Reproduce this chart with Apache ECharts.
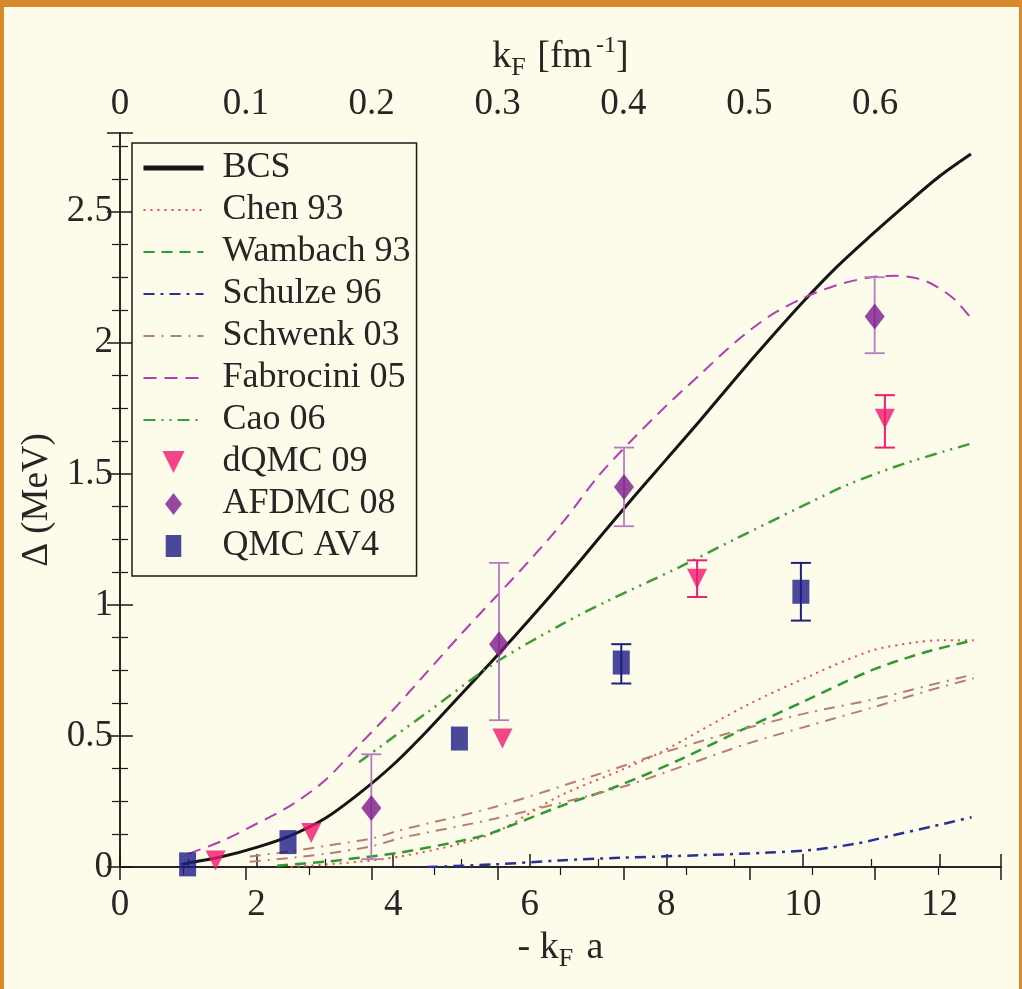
<!DOCTYPE html>
<html>
<head>
<meta charset="utf-8">
<script src="https://cdn.jsdelivr.net/npm/echarts@6/dist/echarts.min.js"></script>
<style>
html,body{margin:0;padding:0;background:#fdfbe9;}
#chart{width:1022px;height:989px;}
</style>
</head>
<body>
<div id="chart"></div>
<script>
// ---- data (x = -kF a, y = Delta in MeV) ----
const bcs = [[0.9,0.01],[1.0,0.015],[1.5,0.04],[2.0,0.075],[2.5,0.12],[3.0,0.185],[3.5,0.28],[4.0,0.39],[4.5,0.52],[5.0,0.66],[5.5,0.80],[6.0,0.945],[6.5,1.095],[7.0,1.25],[7.5,1.405],[8.0,1.555],[8.5,1.705],[9.0,1.86],[9.5,2.01],[10.0,2.155],[10.5,2.29],[11.0,2.41],[11.5,2.525],[12.0,2.635],[12.46,2.72]];
const chen93 = [[2.5,0.0],[3.5,0.02],[4.1,0.04],[5.0,0.09],[5.56,0.14],[6.43,0.27],[7.34,0.37],[7.9,0.435],[9.2,0.62],[10.2,0.74],[11.0,0.825],[11.6,0.855],[12.0,0.865],[12.5,0.865]];
const wambach93 = [[2.3,0.005],[3.0,0.02],[3.5,0.035],[4.1,0.055],[5.0,0.10],[5.44,0.13],[6.43,0.23],[7.3,0.31],[8.2,0.41],[9.0,0.51],[10.0,0.63],[11.0,0.75],[11.8,0.82],[12.5,0.865]];
const schulze96 = [[4.5,0.0],[5.5,0.01],[6.43,0.025],[7.31,0.035],[8.5,0.045],[9.5,0.055],[10.13,0.065],[10.8,0.09],[11.3,0.12],[11.9,0.155],[12.47,0.19]];
const schwenk03 = [[1.9,0.04],[2.5,0.06],[3.0,0.08],[3.7,0.11],[4.1,0.14],[5.5,0.23],[6.9,0.345],[8.0,0.44],[9.18,0.53],[10.1,0.59],[11.04,0.64],[11.8,0.69],[12.5,0.735]];
const schwenk03b = [[1.9,0.02],[2.5,0.035],[3.0,0.05],[3.7,0.08],[4.1,0.11],[5.5,0.185],[7.34,0.305],[8.3,0.39],[9.18,0.47],[10.1,0.54],[11.04,0.61],[11.8,0.67],[12.5,0.72]];
const fabrocini05 = [[1.0,0.05],[1.5,0.10],[2.0,0.165],[2.5,0.235],[3.0,0.33],[3.5,0.465],[4.0,0.60],[4.5,0.745],[5.0,0.89],[5.5,1.03],[6.0,1.17],[6.5,1.32],[7.0,1.49],[7.5,1.63],[8.0,1.76],[8.5,1.88],[9.0,2.0],[9.5,2.10],[10.0,2.17],[10.5,2.22],[11.0,2.25],[11.4,2.255],[11.8,2.235],[12.2,2.17],[12.47,2.09]];
const cao06 = [[3.5,0.40],[4.5,0.59],[5.5,0.78],[6.5,0.93],[7.1,1.01],[8.2,1.145],[9.0,1.25],[9.94,1.37],[10.67,1.46],[11.5,1.54],[12.46,1.615]];

const dqmcX = [1.4, 2.8, 5.6, 8.45, 11.2];
const dqmcY = [0.025, 0.13, 0.49, 1.10, 1.71];
const dqmcLo = [null, null, null, 1.03, 1.60];
const dqmcHi = [null, null, null, 1.17, 1.80];

const afdmcX = [3.68, 5.55, 7.38, 11.05];
const afdmcY = [0.225, 0.85, 1.45, 2.10];
const afdmcLo = [0.03, 0.56, 1.30, 1.96];
const afdmcHi = [0.43, 1.16, 1.60, 2.25];

const qmcX = [0.99, 2.46, 4.97, 7.34, 9.97];
const qmcY = [0.01, 0.095, 0.49, 0.78, 1.05];
const qmcLo = [null, null, null, 0.70, 0.94];
const qmcHi = [null, null, null, 0.85, 1.16];

const lineNames = ['BCS','Chen 93','Wambach 93','Schulze 96','Schwenk 03','Fabrocini 05','Cao 06'];

// ---- helpers ----
const FONT = "'Liberation Serif','DejaVu Serif',serif";
const pts = (xs, ys) => xs.map((x, i) => [x, ys[i]]);
const errs = (xs, lo, hi) => xs.map((x, i) => [x, lo[i], hi[i]]).filter(d => d[1] !== null);

function lineSeries(name, data, color, width, dash) {
  return {
    name, type: 'line', data, showSymbol: false, symbol: 'none',
    smooth: 0.3,
    lineStyle: { color, width, type: dash },
    itemStyle: { color }, z: 3
  };
}
function errSeries(data, color, width, cap) {
  return {
    type: 'custom', data, z: 4, silent: true,
    renderItem: function (params, api) {
      const x = api.value(0);
      const top = api.coord([x, api.value(2)]);
      const bot = api.coord([x, api.value(1)]);
      const st = { stroke: color, lineWidth: width };
      return { type: 'group', children: [
        { type: 'line', shape: { x1: top[0], y1: top[1], x2: bot[0], y2: bot[1] }, style: st },
        { type: 'line', shape: { x1: top[0]-cap, y1: top[1], x2: top[0]+cap, y2: top[1] }, style: st },
        { type: 'line', shape: { x1: bot[0]-cap, y1: bot[1], x2: bot[0]+cap, y2: bot[1] }, style: st }
      ]};
    }
  };
}

const legendData = lineNames.map(n => ({ name: n, itemStyle: { opacity: 0 } })).concat([
  { name: 'dQMC 09', icon: 'path://M0,0L20,0L10,20Z' },
  { name: 'AFDMC 08', icon: 'path://M10,0L20,13L10,26L0,13Z' },
  { name: 'QMC AV4', icon: 'path://M0,0L17,0L17,24L0,24Z' }
]);
legendData[0].lineStyle = { width: 5 };

const chart = echarts.init(document.getElementById('chart'), null, { renderer: 'canvas' });
const axisLineStyle = { color: '#1a1a1a', width: 1.5 };
const labelStyle = { fontFamily: FONT, fontSize: 37, color: '#262626' };

const option = {
  backgroundColor: '#fdfbe9',
  animation: false,
  graphic: [
    { type: 'rect', shape: { x: 0, y: 0, width: 1022, height: 7 }, style: { fill: '#d8892c' }, silent: true },
    { type: 'rect', shape: { x: 0, y: 0, width: 4, height: 989 }, style: { fill: '#d8892c' }, silent: true },
    { type: 'rect', shape: { x: 1019, y: 0, width: 3, height: 989 }, style: { fill: '#d8892c' }, silent: true }
  ],
  grid: { left: 120, top: 133, right: 21, bottom: 122, containLabel: false },
  legend: {
    data: legendData, orient: 'vertical', left: 132, top: 143,
    itemWidth: 60, itemHeight: 22, itemGap: 6, symbolRotate: 0,
    padding: [7, 6, 12, 9],
    backgroundColor: '#fdfbe9', borderColor: '#1a1a1a', borderWidth: 1.5,
    textStyle: { fontFamily: FONT, fontSize: 36, lineHeight: 36, color: '#262626', padding: [0, 0, 0, 14] },
    z: 10
  },
  xAxis: [
    {
      type: 'value', position: 'bottom', min: 0, max: 12.9, interval: 2,
      axisLine: { show: true, lineStyle: axisLineStyle },
      axisTick: { show: true, inside: true, length: 13, lineStyle: axisLineStyle },
      minorTick: { show: true, splitNumber: 2, length: 8, lineStyle: { color: '#1a1a1a', width: 1.2 } },
      splitLine: { show: false },
      axisLabel: Object.assign({ margin: 20, showMaxLabel: false }, labelStyle),
      name: '{t|- k}{s|F}{t| a}', nameLocation: 'middle', nameGap: 56,
      nameTextStyle: { rich: {
        t: { fontFamily: FONT, fontSize: 38, color: '#262626' },
        s: { fontFamily: FONT, fontSize: 26, color: '#262626', padding: [22, 4, 0, 0] }
      } }
    },
    {
      type: 'value', position: 'top', min: 0, max: 0.7, interval: 0.1,
      axisLine: { show: true, lineStyle: axisLineStyle },
      axisTick: { show: true, inside: true, length: 13, lineStyle: axisLineStyle },
      minorTick: { show: true, splitNumber: 2, length: 8, lineStyle: { color: '#1a1a1a', width: 1.2 } },
      splitLine: { show: false },
      axisLabel: Object.assign({ margin: 10, showMaxLabel: false }, labelStyle),
      name: '{t|k}{s|F}{t| [fm}{p|-1}{t|]}', nameLocation: 'middle', nameGap: 46,
      nameTextStyle: { rich: {
        t: { fontFamily: FONT, fontSize: 38, color: '#262626' },
        s: { fontFamily: FONT, fontSize: 26, color: '#262626', padding: [22, 2, 0, 0] },
        p: { fontFamily: FONT, fontSize: 24, color: '#262626', padding: [0, 0, 22, 4] }
      } }
    }
  ],
  yAxis: [
    {
      type: 'value', position: 'left', min: 0, max: 2.8, interval: 0.5,
      axisLine: { show: true, lineStyle: axisLineStyle },
      axisTick: { show: true, inside: true, length: 13, lineStyle: axisLineStyle },
      minorTick: { show: true, splitNumber: 4, length: 8, lineStyle: { color: '#1a1a1a', width: 1.2 } },
      splitLine: { show: false },
      axisLabel: Object.assign({ margin: 7, showMaxLabel: false }, labelStyle),
      name: 'Δ (MeV)', nameLocation: 'middle', nameGap: 45, nameRotate: 90,
      nameTextStyle: { fontFamily: FONT, fontSize: 37, color: '#262626' }
    },
    {
      type: 'value', position: 'right', min: 0, max: 2.8, interval: 0.5,
      axisLine: { show: true, lineStyle: axisLineStyle },
      axisTick: { show: true, inside: true, length: 13, lineStyle: axisLineStyle },
      minorTick: { show: true, splitNumber: 4, length: 8, lineStyle: { color: '#1a1a1a', width: 1.2 } },
      splitLine: { show: false },
      axisLabel: { show: false }
    }
  ],
  series: [
    lineSeries('BCS', bcs, '#151515', 3, 'solid'),
    lineSeries('Chen 93', chen93, '#f04a3a', 2, [2, 5]),
    lineSeries('Wambach 93', wambach93, '#2e9a30', 2.5, [11, 7]),
    lineSeries('Schulze 96', schulze96, '#2a2f96', 2.5, [11, 6, 3, 6]),
    lineSeries('Schwenk 03', schwenk03, '#b77f72', 2, [11, 7, 2, 7]),
    lineSeries('Schwenk 03 (b)', schwenk03b, '#b77f72', 2, [11, 7, 2, 7]),
    lineSeries('Fabrocini 05', fabrocini05, '#b43cb4', 2, [13, 8]),
    lineSeries('Cao 06', cao06, '#3a9e34', 2.5, [12, 6, 2, 6, 2, 6]),
    errSeries(errs(dqmcX, dqmcLo, dqmcHi), '#ee1f74', 2, 10),
    errSeries(errs(afdmcX, afdmcLo, afdmcHi), '#b77ac0', 1.8, 10),
    errSeries(errs(qmcX, qmcLo, qmcHi), '#1f1f80', 2, 10),
    { name: 'dQMC 09', type: 'scatter', data: pts(dqmcX, dqmcY), symbol: 'triangle', symbolRotate: 180,
      symbolSize: [20, 20], itemStyle: { color: '#f0186f' }, z: 5 },
    { name: 'AFDMC 08', type: 'scatter', data: pts(afdmcX, afdmcY), symbol: 'diamond',
      symbolSize: [20, 26], itemStyle: { color: '#7c1a8a' }, z: 5 },
    { name: 'QMC AV4', type: 'scatter', data: pts(qmcX, qmcY), symbol: 'rect',
      symbolSize: [17, 24], itemStyle: { color: '#1b1b85' }, z: 5 }
  ]
};
chart.setOption(option);
</script>
</body>
</html>
